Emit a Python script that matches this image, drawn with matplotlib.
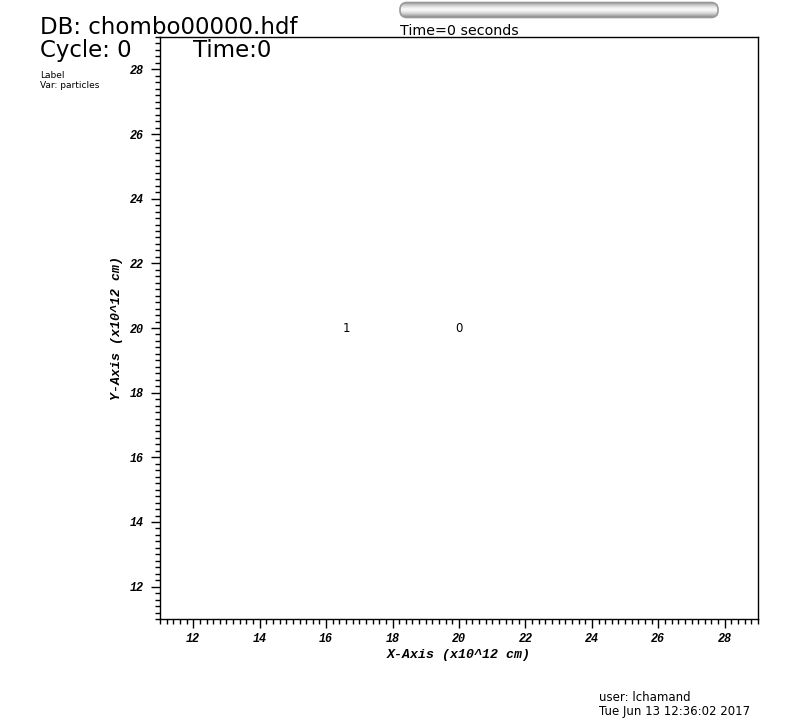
import numpy as np
import matplotlib
matplotlib.use('Agg')
import matplotlib.pyplot as plt
from matplotlib.patches import FancyBboxPatch
from matplotlib.ticker import MultipleLocator

# particle labels (value, x, y)
label_text = ['1', '0']
label_x = [16.6, 20.0]
label_y = [20.0, 20.0]

x_range = [11.0, 29.0]
y_range = [11.0, 29.0]
major_ticks = [12, 14, 16, 18, 20, 22, 24, 26, 28]

W, H = 800, 728
fig = plt.figure(figsize=(W / 100, H / 100), dpi=100)

def fx(px):
    return px / W

def fy(py):
    return 1 - py / H

ax = fig.add_axes([fx(160), fy(619), (758 - 160) / W, (619 - 37) / H])
ax.set_xlim(x_range)
ax.set_ylim(y_range)
for sp in ax.spines.values():
    sp.set_linewidth(1.0)
    sp.set_color('black')

axfont = dict(family='Liberation Mono', weight='bold', style='italic')
ax.set_xticks(major_ticks)
ax.set_yticks(major_ticks)
ax.xaxis.set_minor_locator(MultipleLocator(0.2))
ax.yaxis.set_minor_locator(MultipleLocator(0.2))
ax.tick_params(which='major', direction='out', length=6.8, width=1)
ax.tick_params(axis='x', which='major', pad=3.5)
ax.tick_params(axis='y', which='major', pad=5)
ax.tick_params(which='minor', direction='out', length=3.3, width=1)
ax.set_xticklabels([str(t) for t in major_ticks], fontsize=8.5, **axfont)
ax.set_yticklabels([str(t) for t in major_ticks], fontsize=8.5, **axfont)
ax.set_xlabel('X-Axis (x10^12 cm)', fontsize=9.5, labelpad=3, **axfont)
ax.set_ylabel('Y-Axis (x10^12 cm)', fontsize=9.5, labelpad=5, **axfont)

for t, x, y in zip(label_text, label_x, label_y):
    ax.text(x, y, t, ha='center', va='center', fontsize=8.5, family='DejaVu Sans')

# annotations
sans = 'DejaVu Sans'
fig.text(fx(40), fy(34), 'DB: chombo00000.hdf', fontsize=16.5, family=sans, va='baseline')
fig.text(fx(40), fy(57), 'Cycle: 0', fontsize=16.5, family=sans, va='baseline')
fig.text(fx(193), fy(57), 'Time:0', fontsize=16.5, family=sans, va='baseline')
fig.text(fx(40), fy(78), 'Label', fontsize=6.5, family=sans, va='baseline')
fig.text(fx(40), fy(88), 'Var: particles', fontsize=6.5, family=sans, va='baseline')
fig.text(fx(400), fy(35), 'Time=0 seconds', fontsize=10.3, family=sans, va='baseline')
fig.text(fx(599), fy(701), 'user: lchamand', fontsize=8.5, family=sans, va='baseline')
fig.text(fx(599), fy(715), 'Tue Jun 13 12:36:02 2017', fontsize=8.5, family=sans, va='baseline')

# time slider bar
sax = fig.add_axes([fx(399), fy(19), 320 / W, 18 / H])
sax.set_xlim(0, 320)
sax.set_ylim(0, 18)
sax.axis('off')
box = FancyBboxPatch((1, 1.5), 318, 15, boxstyle='round,pad=0,rounding_size=7',
                     facecolor='none', edgecolor='#9a9a9a', linewidth=1.2, zorder=3)
sax.add_patch(box)
v = np.linspace(-1, 1, 64)
grad = 0.97 - 0.42 * np.abs(v[:, None]) ** 1.6
img = sax.imshow(np.repeat(grad, 8, axis=1), cmap='gray', vmin=0, vmax=1,
                 extent=[1, 319, 1.5, 16.5], aspect='auto', origin='lower')
img.set_clip_path(box)

fig.savefig('out.png', dpi=100, facecolor='white')
